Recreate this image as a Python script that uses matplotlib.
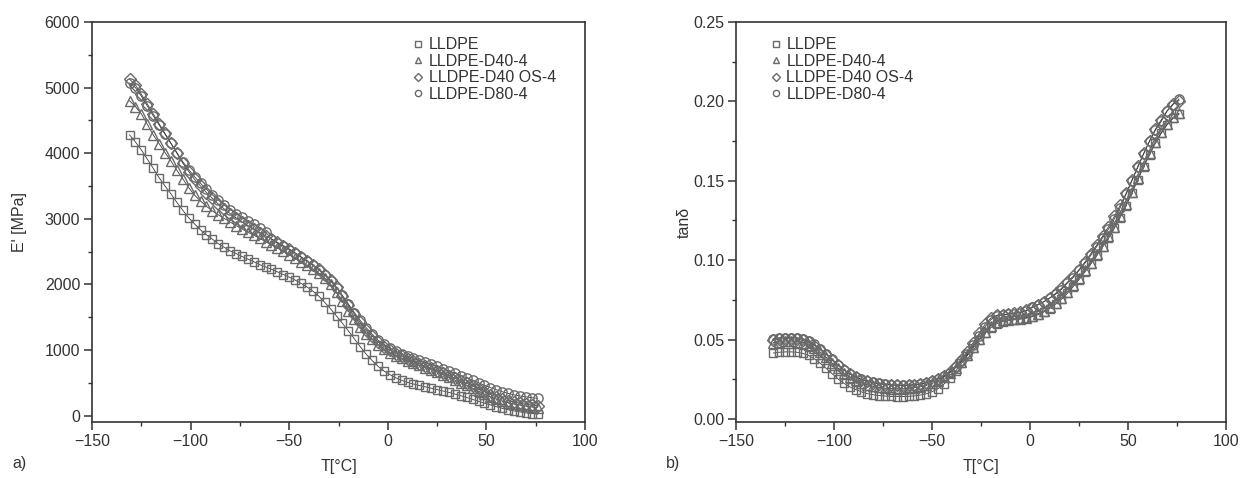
import numpy as np
import matplotlib.pyplot as plt

plt.rcParams["font.family"] = ["Liberation Sans", "DejaVu Sans"]
plt.rcParams["axes.unicode_minus"] = True

# temperatures of the measured points (°C), shared by all series
temps = [-131, -128, -125, -122, -119, -116, -113, -110, -107, -104,
         -101, -98, -95, -92, -89, -86, -83, -80, -77, -74,
         -71, -68, -65, -62, -59, -56, -53, -50, -47, -44,
         -41, -38, -35, -32, -29, -26, -23, -20, -17, -14,
         -11, -8, -5, -2, 1, 4, 7, 10, 13, 16,
         19, 22, 25, 28, 31, 34, 37, 40, 43, 46,
         49, 52, 55, 58, 61, 64, 67, 70, 73, 76]

labels = ["LLDPE", "LLDPE-D40-4", "LLDPE-D40 OS-4", "LLDPE-D80-4"]
markers = ["s", "^", "D", "o"]

# storage modulus E' [MPa]
e_lldpe = [4280, 4170, 4050, 3910, 3770, 3625, 3500, 3380, 3250, 3130,
           3015, 2920, 2830, 2755, 2690, 2620, 2565, 2510, 2470, 2425,
           2385, 2345, 2300, 2265, 2230, 2190, 2150, 2110, 2065, 2015,
           1960, 1895, 1820, 1725, 1625, 1515, 1405, 1290, 1170, 1050,
           935, 840, 750, 680, 625, 575, 535, 505, 480, 458,
           437, 416, 395, 374, 352, 328, 302, 275, 245, 216,
           189, 162, 135, 110, 88, 70, 55, 40, 30, 22]
e_d40 = [4800, 4710, 4600, 4440, 4280, 4145, 4010, 3880, 3740, 3610,
         3475, 3360, 3270, 3190, 3120, 3060, 3005, 2950, 2895, 2845,
         2795, 2750, 2700, 2650, 2605, 2555, 2505, 2450, 2395, 2340,
         2290, 2230, 2170, 2095, 2000, 1880, 1740, 1590, 1465, 1355,
         1250, 1160, 1080, 1015, 960, 915, 875, 835, 800, 765,
         730, 695, 660, 620, 580, 540, 500, 460, 415, 370,
         325, 285, 250, 220, 195, 175, 158, 143, 130, 120]
e_d40os = [5130, 5040, 4900, 4750, 4600, 4450, 4300, 4150, 4000, 3850,
           3720, 3600, 3500, 3400, 3310, 3225, 3150, 3080, 3015, 2950,
           2895, 2840, 2790, 2740, 2690, 2640, 2590, 2540, 2480, 2420,
           2360, 2295, 2230, 2150, 2060, 1955, 1820, 1680, 1545, 1420,
           1305, 1210, 1120, 1050, 995, 945, 900, 860, 825, 790,
           755, 720, 685, 650, 610, 570, 530, 490, 450, 405,
           360, 320, 285, 255, 228, 205, 188, 172, 160, 150]
e_d80 = [5070, 5000, 4870, 4720, 4570, 4430, 4290, 4150, 4010, 3870,
         3750, 3640, 3540, 3450, 3365, 3285, 3210, 3140, 3080, 3020,
         2965, 2915, 2865, 2800, 2690, 2630, 2580, 2530, 2475, 2415,
         2355, 2290, 2220, 2140, 2050, 1950, 1830, 1700, 1570, 1450,
         1340, 1240, 1150, 1085, 1030, 980, 940, 905, 870, 840,
         810, 780, 750, 715, 680, 645, 610, 575, 540, 500,
         460, 425, 392, 362, 338, 315, 298, 284, 272, 262]

# loss factor tan delta
t_lldpe = [0.0415, 0.042, 0.0422, 0.0422, 0.042, 0.0413, 0.040, 0.0378, 0.035, 0.0318,
           0.0285, 0.0252, 0.0225, 0.0202, 0.0185, 0.017, 0.0159, 0.0152, 0.0147, 0.0144,
           0.0142, 0.0141, 0.0141, 0.0142, 0.0145, 0.015, 0.0158, 0.0171, 0.019, 0.0218,
           0.0255, 0.030, 0.035, 0.0398, 0.0448, 0.0497, 0.054, 0.0575, 0.060, 0.0613,
           0.062, 0.0624, 0.0628, 0.0634, 0.0643, 0.0656, 0.0673, 0.0695, 0.0722, 0.0753,
           0.079, 0.0832, 0.0877, 0.0925, 0.0975, 0.1028, 0.1083, 0.114, 0.120, 0.1268,
           0.1342, 0.1422, 0.1505, 0.1588, 0.1665, 0.1737, 0.180, 0.1853, 0.1893, 0.1918]
t_d40 = [0.048, 0.0485, 0.049, 0.049, 0.0487, 0.048, 0.0467, 0.0448, 0.042, 0.0388,
         0.0352, 0.032, 0.029, 0.0265, 0.0245, 0.0228, 0.0215, 0.0205, 0.0198, 0.0194,
         0.0191, 0.019, 0.019, 0.0192, 0.0196, 0.0202, 0.0211, 0.0223, 0.024, 0.0262,
         0.029, 0.0322, 0.036, 0.0405, 0.0455, 0.0505, 0.0548, 0.0585, 0.0608, 0.062,
         0.0625, 0.0628, 0.0632, 0.0638, 0.0648, 0.0662, 0.068, 0.0703, 0.073, 0.0762,
         0.080, 0.0842, 0.0888, 0.0935, 0.0985, 0.1038, 0.1092, 0.115, 0.121, 0.1278,
         0.1352, 0.1432, 0.1515, 0.1598, 0.1675, 0.1745, 0.1805, 0.1858, 0.190, 0.1925]
t_d40os = [0.0495, 0.0502, 0.0505, 0.0505, 0.0502, 0.0495, 0.0482, 0.0462, 0.0435, 0.0405,
           0.037, 0.0337, 0.0307, 0.0282, 0.0262, 0.0247, 0.0236, 0.0227, 0.0221, 0.0216,
           0.0213, 0.0211, 0.021, 0.0211, 0.0213, 0.0218, 0.0226, 0.0237, 0.0252, 0.0272,
           0.0298, 0.0332, 0.0373, 0.042, 0.0478, 0.0538, 0.0595, 0.0635, 0.0652, 0.0657,
           0.066, 0.0665, 0.0672, 0.0683, 0.070, 0.0718, 0.0738, 0.0762, 0.079, 0.0822,
           0.086, 0.0898, 0.094, 0.0988, 0.104, 0.1095, 0.115, 0.121, 0.1275, 0.1345,
           0.142, 0.1505, 0.159, 0.1672, 0.1752, 0.1825, 0.1885, 0.1942, 0.1985, 0.2005]
t_d80 = [0.0505, 0.051, 0.0512, 0.0512, 0.051, 0.0502, 0.049, 0.047, 0.044, 0.041,
         0.0375, 0.034, 0.031, 0.0285, 0.0265, 0.025, 0.024, 0.023, 0.0224, 0.0219,
         0.0216, 0.0214, 0.0213, 0.0214, 0.0216, 0.022, 0.0228, 0.0238, 0.025, 0.0268,
         0.0292, 0.0325, 0.0365, 0.041, 0.0465, 0.0525, 0.058, 0.0625, 0.0648, 0.0655,
         0.0658, 0.0663, 0.067, 0.068, 0.0705, 0.072, 0.0738, 0.076, 0.0785, 0.0815,
         0.0855, 0.089, 0.0935, 0.098, 0.103, 0.1085, 0.114, 0.1195, 0.126, 0.133,
         0.1415, 0.150, 0.1585, 0.167, 0.175, 0.182, 0.1875, 0.194, 0.198, 0.2015]

edge = "#6a6a6a"
dark = "#333333"
msizes = {"s": 6.2, "^": 6.7, "D": 5.7, "o": 6.7}
fs = 11.5


def style_axes(ax):
    for sp in ax.spines.values():
        sp.set_linewidth(1.2)
        sp.set_color(dark)
    ax.tick_params(which="both", direction="out", colors=dark, labelsize=fs,
                   top=False, right=False, pad=2.5)
    ax.tick_params(which="major", length=6, width=1.1)
    ax.tick_params(which="minor", length=3, width=1.0)


fig = plt.figure(figsize=(12.49, 4.78), dpi=100)
ax1 = fig.add_axes([0.0737, 0.117, 0.3947, 0.837])
ax2 = fig.add_axes([0.5893, 0.117, 0.3923, 0.837])

for ax, series in ((ax1, [e_lldpe, e_d40, e_d40os, e_d80]),
                   (ax2, [t_lldpe, t_d40, t_d40os, t_d80])):
    for vals, mk, lab in zip(series, markers, labels):
        ax.plot(temps, vals, color="#3a3a3a", lw=0.6, zorder=2)
        ax.plot(temps, vals, ls="none", marker=mk, ms=msizes[mk], mfc="none",
                mec=edge, mew=1.0, label=lab, zorder=3)

# panel a
ax1.set_xlim(-150, 100)
ax1.set_ylim(-100, 6000)
ax1.set_xticks([-150, -100, -50, 0, 50, 100])
ax1.set_xticks(np.arange(-125, 100, 50), minor=True)
ax1.set_yticks(np.arange(0, 6001, 1000))
ax1.set_yticks(np.arange(500, 6000, 1000), minor=True)
ax1.set_xlabel("T[°C]", fontsize=fs, color=dark, labelpad=7)
ax1.set_ylabel("E' [MPa]", fontsize=fs, color=dark, labelpad=13)
style_axes(ax1)
leg1 = ax1.legend(loc="upper left", bbox_to_anchor=(0.652, 0.962), frameon=False,
                  fontsize=fs, handlelength=0.6, handletextpad=0.35,
                  labelspacing=0.1, borderpad=0, borderaxespad=0)

# panel b
ax2.set_xlim(-150, 100)
ax2.set_ylim(-0.002, 0.25)
ax2.set_xticks([-150, -100, -50, 0, 50, 100])
ax2.set_xticks(np.arange(-125, 100, 50), minor=True)
ax2.set_yticks(np.arange(0, 0.2501, 0.05))
ax2.set_yticks(np.arange(0.025, 0.25, 0.05), minor=True)
ax2.set_yticklabels(["0.00", "0.05", "0.10", "0.15", "0.20", "0.25"])
ax2.set_xlabel("T[°C]", fontsize=fs, color=dark, labelpad=7)
ax2.set_ylabel("tanδ", fontsize=fs, color=dark, labelpad=1)
style_axes(ax2)
leg2 = ax2.legend(loc="upper left", bbox_to_anchor=(0.072, 0.962), frameon=False,
                  fontsize=fs, handlelength=0.6, handletextpad=0.35,
                  labelspacing=0.1, borderpad=0, borderaxespad=0)

for leg in (leg1, leg2):
    for h in leg.legend_handles:
        h.set_markersize(4.5)
    for t in leg.get_texts():
        t.set_color(dark)

fig.text(0.01, 0.02, "a)", fontsize=fs, color=dark)
fig.text(0.533, 0.02, "b)", fontsize=fs, color=dark)

fig.savefig("out.png", dpi=100, facecolor="white")
